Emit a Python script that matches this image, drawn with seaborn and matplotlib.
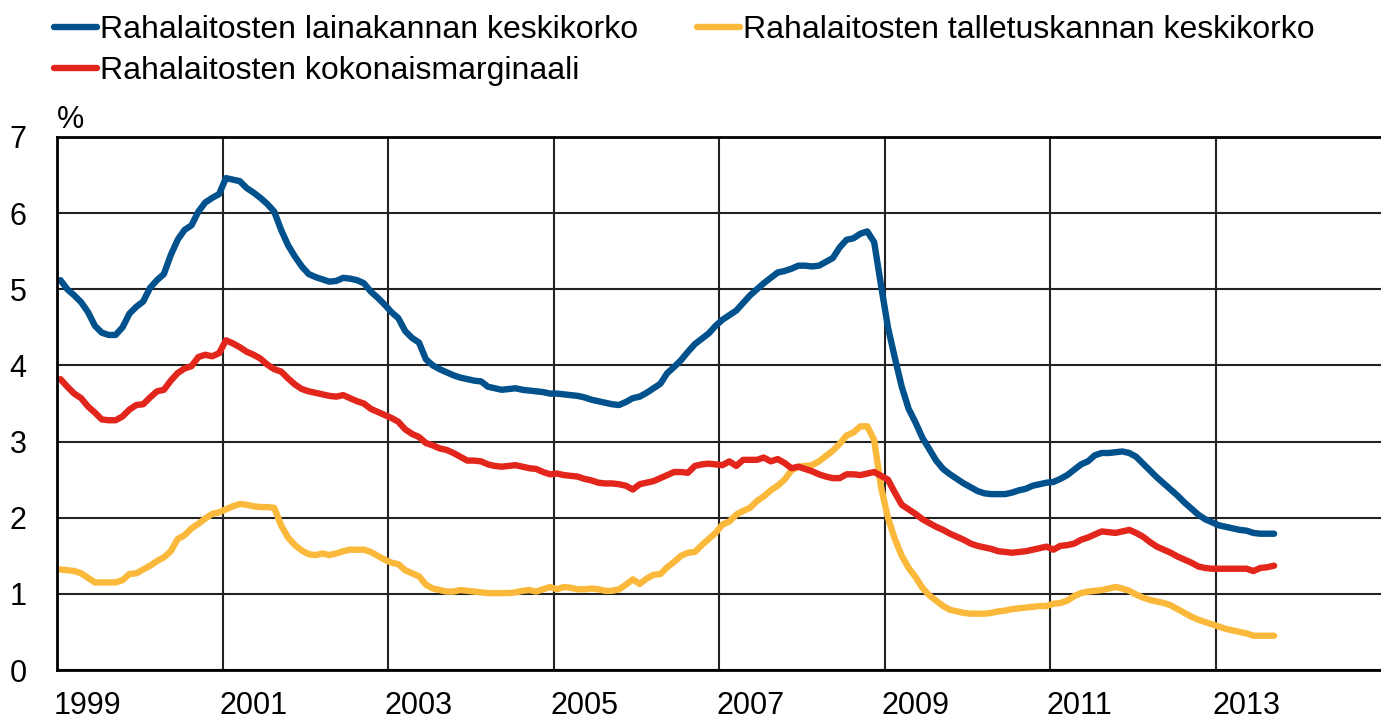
import numpy as np
import pandas as pd
import matplotlib
matplotlib.use("Agg")
import matplotlib.pyplot as plt
import matplotlib.transforms as mtransforms
import seaborn as sns
from matplotlib.lines import Line2D

# ---------------- data (monthly, from January 1999) ----------------
series_names = [
    "Rahalaitosten lainakannan keskikorko",
    "Rahalaitosten talletuskannan keskikorko",
    "Rahalaitosten kokonaismarginaali",
]

lending = [
    5.12, 5.00, 4.92, 4.83, 4.70, 4.52, 4.43, 4.40, 4.40, 4.50,
    4.68, 4.77, 4.84, 5.02, 5.12, 5.20, 5.45, 5.65, 5.78, 5.84,
    6.02, 6.14, 6.20, 6.25, 6.46, 6.44, 6.42, 6.33, 6.27, 6.20,
    6.12, 6.02, 5.78, 5.58, 5.43, 5.30, 5.20, 5.16, 5.13, 5.10,
    5.11, 5.15, 5.14, 5.12, 5.08, 4.97, 4.89, 4.80, 4.70, 4.62,
    4.45, 4.36, 4.30, 4.08, 4.00, 3.95, 3.91, 3.87, 3.84, 3.82,
    3.80, 3.79, 3.72, 3.70, 3.68, 3.69, 3.70, 3.68, 3.67, 3.66,
    3.65, 3.63, 3.63, 3.62, 3.61, 3.60, 3.58, 3.55, 3.53, 3.51,
    3.49, 3.48, 3.52, 3.57, 3.59, 3.64, 3.70, 3.76, 3.90, 3.98,
    4.07, 4.18, 4.28, 4.35, 4.42, 4.52, 4.60, 4.66, 4.72, 4.82,
    4.92, 5.00, 5.08, 5.15, 5.22, 5.24, 5.27, 5.31, 5.31, 5.30,
    5.31, 5.36, 5.41, 5.55, 5.65, 5.67, 5.73, 5.76, 5.62, 5.05,
    4.50, 4.10, 3.72, 3.43, 3.25, 3.05, 2.90, 2.75, 2.64, 2.57,
    2.51, 2.45, 2.40, 2.35, 2.32, 2.31, 2.31, 2.31, 2.33, 2.36,
    2.38, 2.42, 2.44, 2.46, 2.47, 2.51, 2.56, 2.63, 2.70, 2.74,
    2.82, 2.85, 2.85, 2.86, 2.87, 2.85, 2.80, 2.71, 2.62, 2.53,
    2.45, 2.37, 2.29, 2.20, 2.12, 2.04, 1.98, 1.94, 1.90, 1.88,
    1.86, 1.84, 1.83, 1.80, 1.79, 1.79, 1.79,
]

deposit = [
    1.32, 1.31, 1.30, 1.27, 1.21, 1.15, 1.15, 1.15, 1.15, 1.18,
    1.26, 1.27, 1.32, 1.37, 1.43, 1.48, 1.56, 1.72, 1.77, 1.86,
    1.92, 1.99, 2.05, 2.07, 2.11, 2.15, 2.18, 2.17, 2.15, 2.14,
    2.14, 2.13, 1.90, 1.74, 1.64, 1.57, 1.52, 1.51, 1.53, 1.51,
    1.53, 1.56, 1.58, 1.58, 1.58, 1.55, 1.50, 1.45, 1.41, 1.39,
    1.31, 1.27, 1.23, 1.12, 1.07, 1.05, 1.03, 1.03, 1.05, 1.04,
    1.03, 1.02, 1.01, 1.01, 1.01, 1.01, 1.02, 1.04, 1.05, 1.03,
    1.06, 1.09, 1.06, 1.09, 1.08, 1.06, 1.06, 1.07, 1.06, 1.04,
    1.04, 1.06, 1.12, 1.19, 1.13, 1.20, 1.25, 1.26, 1.35, 1.42,
    1.50, 1.54, 1.55, 1.64, 1.72, 1.80, 1.91, 1.95, 2.04, 2.09,
    2.13, 2.22, 2.28, 2.36, 2.42, 2.50, 2.62, 2.67, 2.68, 2.69,
    2.74, 2.81, 2.88, 2.97, 3.08, 3.12, 3.20, 3.20, 3.02, 2.40,
    2.00, 1.72, 1.50, 1.34, 1.22, 1.08, 0.98, 0.91, 0.84, 0.79,
    0.77, 0.75, 0.74, 0.74, 0.74, 0.75, 0.77, 0.78, 0.80, 0.81,
    0.82, 0.83, 0.84, 0.84, 0.87, 0.88, 0.91, 0.97, 1.01, 1.03,
    1.04, 1.05, 1.07, 1.09, 1.07, 1.04, 0.99, 0.95, 0.92, 0.90,
    0.88, 0.85, 0.80, 0.75, 0.70, 0.66, 0.63, 0.60, 0.57, 0.54,
    0.52, 0.50, 0.48, 0.45, 0.45, 0.45, 0.45,
]

margin = [
    3.82, 3.72, 3.63, 3.57, 3.46, 3.38, 3.29, 3.28, 3.28, 3.33,
    3.42, 3.48, 3.49, 3.58, 3.66, 3.68, 3.80, 3.90, 3.96, 3.99,
    4.11, 4.14, 4.12, 4.16, 4.33, 4.29, 4.24, 4.18, 4.14, 4.09,
    4.01, 3.95, 3.92, 3.83, 3.75, 3.69, 3.66, 3.64, 3.62, 3.60,
    3.59, 3.61, 3.57, 3.53, 3.50, 3.43, 3.39, 3.35, 3.31, 3.26,
    3.16, 3.10, 3.06, 2.98, 2.95, 2.91, 2.89, 2.85, 2.80, 2.75,
    2.75, 2.74, 2.70, 2.68, 2.67, 2.68, 2.69, 2.67, 2.65, 2.64,
    2.60, 2.57, 2.58, 2.56, 2.55, 2.54, 2.51, 2.49, 2.46, 2.45,
    2.45, 2.44, 2.42, 2.37, 2.44, 2.46, 2.48, 2.52, 2.56, 2.60,
    2.60, 2.59, 2.68, 2.70, 2.71, 2.70, 2.69, 2.74, 2.68, 2.76,
    2.76, 2.76, 2.79, 2.74, 2.77, 2.72, 2.65, 2.67, 2.64, 2.61,
    2.57, 2.54, 2.52, 2.52, 2.57, 2.57, 2.56, 2.58, 2.60, 2.55,
    2.50, 2.33, 2.17, 2.11, 2.05, 1.98, 1.93, 1.88, 1.84, 1.79,
    1.75, 1.71, 1.66, 1.63, 1.61, 1.59, 1.56, 1.55, 1.54, 1.55,
    1.56, 1.58, 1.60, 1.62, 1.58, 1.63, 1.64, 1.66, 1.71, 1.74,
    1.78, 1.82, 1.81, 1.80, 1.82, 1.84, 1.80, 1.75, 1.68, 1.62,
    1.58, 1.54, 1.49, 1.45, 1.41, 1.36, 1.34, 1.33, 1.33, 1.33,
    1.33, 1.33, 1.33, 1.30, 1.34, 1.35, 1.37,
]

start_year = 1999
year_ticks = [1999, 2001, 2003, 2005, 2007, 2009, 2011, 2013]
year_labels = ["1999", "2001", "2003", "2005", "2007", "2009", "2011", "2013"]
y_ticks = [0, 1, 2, 3, 4, 5, 6, 7]
y_labels = ["0", "1", "2", "3", "4", "5", "6", "7"]
unit_label = "%"

colors = {
    series_names[0]: "#00518C",
    series_names[1]: "#FBB93B",
    series_names[2]: "#E3261C",
}

# ---------------- build frame ----------------
n = len(lending)
t = start_year + (np.arange(n) + 0.5) / 12.0
df = pd.DataFrame({
    "t": np.concatenate([t, t, t]),
    "value": lending + deposit + margin,
    "series": np.repeat(series_names, n),
})

sns.set_theme(style="white")
plt.rcParams["font.family"] = ["Liberation Sans", "DejaVu Sans"]
plt.rcParams["text.color"] = "black"

W, H = 1381, 724
fig = plt.figure(figsize=(W / 100, H / 100), dpi=100)
fig.patch.set_facecolor("white")
ax = fig.add_axes([57 / W, (H - 670) / H, (W - 57) / W, (670 - 137) / H])

lw = 4.6
sns.lineplot(data=df, x="t", y="value", hue="series", hue_order=series_names,
             palette=colors, linewidth=lw, ax=ax, legend=False,
             estimator=None, sort=False)
for ln in ax.lines:
    ln.set_solid_capstyle("round")
    ln.set_solid_joinstyle("round")

ax.set_xlim(1999, 2015)
ax.set_ylim(0, 7)
ax.set_xticks(year_ticks)
ax.set_xticklabels(year_labels, ha="left")
ax.set_yticks(y_ticks)
ax.set_yticklabels(y_labels)
ax.set_xlabel("")
ax.set_ylabel("")
ax.grid(True, color="#222222", linewidth=1.5)
ax.set_axisbelow(True)
ax.tick_params(axis="both", length=0, labelsize=22, colors="black")
ax.tick_params(axis="y", pad=22)
ax.tick_params(axis="x", pad=15)

# shift x labels slightly left of their gridline, as in the reference
offset = mtransforms.ScaledTranslation(-3 / 100, 0, fig.dpi_scale_trans)
for lbl in ax.get_xticklabels():
    lbl.set_transform(lbl.get_transform() + offset)

for side in ["left", "top", "bottom"]:
    ax.spines[side].set_visible(True)
    ax.spines[side].set_color("black")
    ax.spines[side].set_linewidth(2.0)
ax.spines["right"].set_visible(False)

ax.text(0, 1.004, unit_label, transform=ax.transAxes, fontsize=22,
        ha="left", va="bottom", color="black")

order = [0, 2, 1]
handles = [Line2D([0], [0], color=colors[series_names[i]], lw=4.6,
                  solid_capstyle="round") for i in order]
labels = [series_names[i] for i in order]
leg = fig.legend(handles, labels, loc="upper left",
                 bbox_to_anchor=(54 / W, 1 - 15 / H), ncol=2, frameon=False,
                 fontsize=23, handlelength=1.35, handletextpad=0.08,
                 columnspacing=1.85, labelspacing=0.35, borderpad=0,
                 borderaxespad=0)
for txt in leg.get_texts():
    txt.set_color("black")

fig.savefig("out.png", dpi=100)
